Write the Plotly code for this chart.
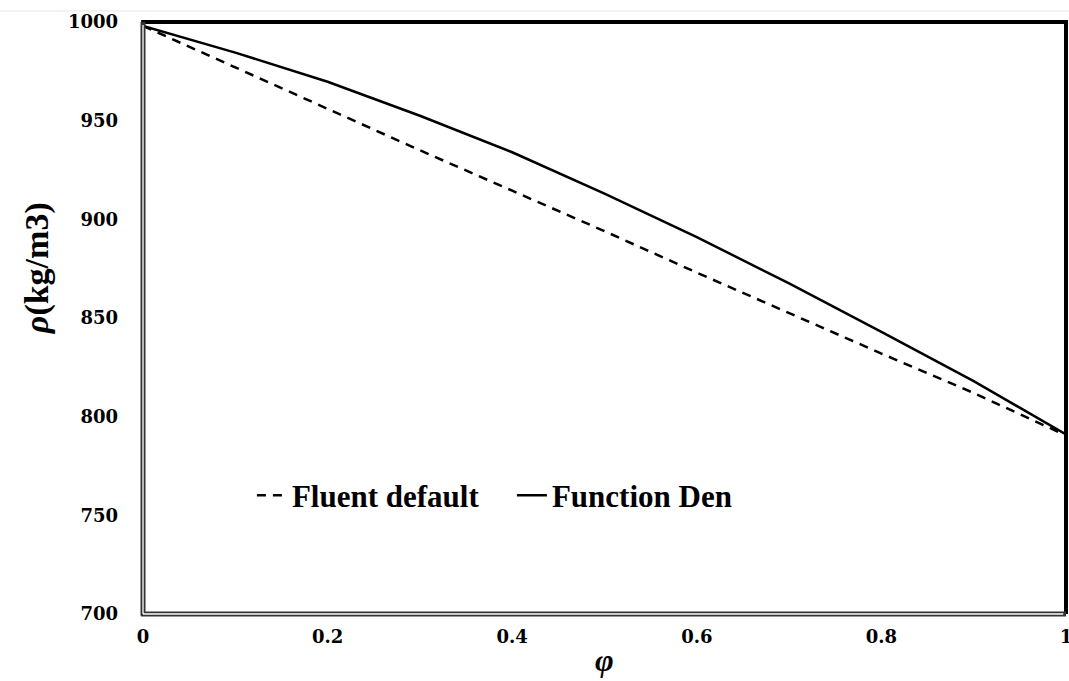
import plotly.graph_objects as go

phi = [0.0, 0.1, 0.2, 0.3, 0.4, 0.5, 0.6, 0.7, 0.8, 0.9, 1.0]
fluent_default = [998, 977, 956, 935, 914.5, 894, 873, 852.5, 832, 812, 790.5]
function_den = [998, 984.5, 969.7, 952.5, 934, 913, 891, 867.5, 843, 818, 791]

x_ticks = [0, 0.2, 0.4, 0.6, 0.8, 1]
x_tick_text = ["0", "0.2", "0.4", "0.6", "0.8", "1"]
y_ticks = [700, 750, 800, 850, 900, 950, 1000]

tick_font = dict(family="DejaVu Serif", size=18, color="black", weight="bold")
serif_bold = dict(family="Liberation Serif", color="black", weight="bold")

fig = go.Figure()
fig.add_trace(go.Scatter(x=phi, y=fluent_default, mode="lines", name="Fluent default",
                         line=dict(color="black", width=2.5, dash="9px,7px")))
fig.add_trace(go.Scatter(x=phi, y=function_den, mode="lines", name="Function Den",
                         line=dict(color="black", width=2.5)))

frame = [
    # top and right: solid black
    dict(type="line", xref="paper", yref="paper", x0=-0.002, x1=1.002, y0=1, y1=1,
         line=dict(color="black", width=4), layer="above"),
    dict(type="line", xref="paper", yref="paper", x0=1, x1=1, y0=0, y1=1.003,
         line=dict(color="black", width=4), layer="above"),
    # left and bottom: double line
    dict(type="line", xref="paper", yref="paper", x0=0, x1=0, y0=-0.003, y1=1,
         line=dict(color="#333", width=5), layer="above"),
    dict(type="line", xref="paper", yref="paper", x0=-0.002, x1=1, y0=0, y1=0,
         line=dict(color="#333", width=5), layer="above"),
    dict(type="line", xref="paper", yref="paper", x0=0, x1=0, y0=0, y1=0.995,
         line=dict(color="white", width=1.3), layer="above"),
    dict(type="line", xref="paper", yref="paper", x0=0, x1=0.997, y0=0, y1=0,
         line=dict(color="white", width=1.3), layer="above"),
    # faint line across the top of the image
    dict(type="line", xref="paper", yref="paper", x0=-0.16, x1=1.01, y0=1.0186, y1=1.0186,
         line=dict(color="#e6e6e6", width=1), layer="above"),
]

fig.update_layout(
    width=1069, height=681,
    margin=dict(l=143, r=3, t=22, b=67, autoexpand=False),
    paper_bgcolor="white", plot_bgcolor="white",
    showlegend=True,
    legend=dict(orientation="h", x=0.118, y=0.20, xanchor="left", yanchor="middle",
                font=dict(size=31, **serif_bold), bgcolor="rgba(0,0,0,0)",
                itemwidth=30, entrywidth=215),
    xaxis=dict(range=[0, 1], tickvals=x_ticks, ticktext=x_tick_text, showgrid=False,
               zeroline=False, showline=False, automargin=False,
               ticks="", tickfont=tick_font, ticklabelstandoff=10,
               ticklabeloverflow="allow"),
    yaxis=dict(range=[700, 1000], tickvals=y_ticks, showgrid=False, zeroline=False,
               showline=False, automargin=False,
               ticks="", tickfont=tick_font, ticklabelstandoff=24),
    shapes=frame,
    annotations=[
        dict(text="<i>ρ</i>(kg/m3)", xref="paper", yref="paper", x=-0.115, y=0.584,
             xanchor="center", yanchor="middle", textangle=-90, showarrow=False,
             font=dict(size=34, **serif_bold)),
        dict(text="<i>φ</i>", xref="paper", yref="paper", x=0.5, y=-0.078,
             xanchor="center", yanchor="middle", showarrow=False,
             font=dict(size=32, **serif_bold)),
    ],
)

fig.write_html("out.html")
